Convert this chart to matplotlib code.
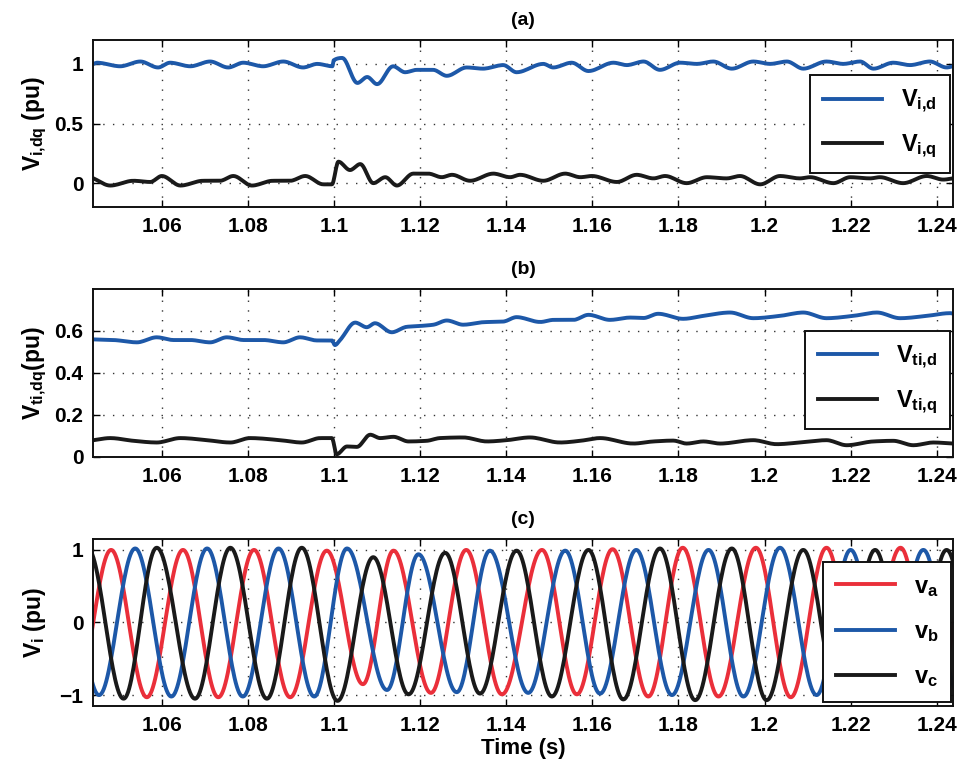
import numpy as np
import matplotlib
matplotlib.use("Agg")
import matplotlib.pyplot as plt
from matplotlib.ticker import FixedLocator, FuncFormatter

plt.rcParams['font.family'] = ['Liberation Sans', 'DejaVu Sans']
plt.rcParams['font.weight'] = 'bold'
plt.rcParams['axes.labelweight'] = 'bold'
plt.rcParams['axes.titleweight'] = 'bold'
plt.rcParams['mathtext.fontset'] = 'custom'
plt.rcParams['mathtext.rm'] = 'Liberation Sans:bold'
plt.rcParams['mathtext.it'] = 'Liberation Sans:bold'
plt.rcParams['mathtext.bf'] = 'Liberation Sans:bold'

# ---------------- (a) inverter voltage, dq frame ----------------
t_a_d = [1.0440, 1.0449, 1.0503, 1.0550, 1.0591, 1.0619, 1.0666, 1.0712, 1.0754, 1.0789,
         1.0835, 1.0882, 1.0928, 1.0961, 1.0996, 1.0999, 1.1019, 1.1054, 1.1077, 1.1100,
         1.1137, 1.1165, 1.1192, 1.1230, 1.1262, 1.1308, 1.1346, 1.1393, 1.1424, 1.1486,
         1.1509, 1.1552, 1.1591, 1.1649, 1.1680, 1.1719, 1.1757, 1.1804, 1.1843, 1.1881,
         1.1924, 1.1974, 1.2013, 1.2052, 1.2090, 1.2144, 1.2183, 1.2222, 1.2253, 1.2299,
         1.2338, 1.2384, 1.2423, 1.2438]
v_i_d = [1.00, 1.01, 0.98, 1.02, 0.97, 1.01, 0.98, 1.02, 0.97, 1.01,
         0.98, 1.02, 0.97, 1.00, 0.98, 1.03, 1.05, 0.84, 0.89, 0.83,
         0.98, 0.93, 0.95, 0.95, 0.90, 0.97, 0.96, 0.99, 0.93, 1.00,
         0.97, 1.01, 0.94, 1.01, 0.99, 1.02, 0.95, 1.01, 1.00, 1.02,
         0.96, 1.02, 1.00, 1.02, 0.96, 1.02, 1.00, 1.02, 0.96, 1.01,
         0.99, 1.02, 0.97, 0.98]

t_a_q = [1.0441, 1.0480, 1.0534, 1.0573, 1.0600, 1.0643, 1.0696, 1.0735, 1.0766, 1.0809,
         1.0858, 1.0898, 1.0933, 1.0975, 1.0995, 1.1010, 1.1037, 1.1061, 1.1091, 1.1119,
         1.1146, 1.1184, 1.1219, 1.1250, 1.1274, 1.1316, 1.1370, 1.1409, 1.1432, 1.1486,
         1.1537, 1.1572, 1.1599, 1.1657, 1.1703, 1.1742, 1.1769, 1.1819, 1.1866, 1.1912,
         1.1943, 1.1990, 1.2036, 1.2082, 1.2106, 1.2160, 1.2199, 1.2245, 1.2268, 1.2322,
         1.2377, 1.2415, 1.2438]
v_i_q = [0.04, -0.02, 0.02, 0.01, 0.06, -0.02, 0.02, 0.02, 0.06, -0.02,
         0.02, 0.02, 0.06, -0.01, -0.01, 0.18, 0.11, 0.16, 0.00, 0.05,
         -0.02, 0.08, 0.08, 0.05, 0.07, 0.02, 0.08, 0.05, 0.07, 0.02,
         0.08, 0.05, 0.06, 0.01, 0.07, 0.04, 0.06, 0.00, 0.05, 0.04,
         0.06, -0.01, 0.06, 0.04, 0.05, 0.00, 0.05, 0.04, 0.05, 0.00,
         0.06, 0.03, 0.04]

# ---------------- (b) terminal voltage, dq frame ----------------
t_b_d = [1.0441, 1.0488, 1.0542, 1.0588, 1.0627, 1.0666, 1.0712, 1.0751, 1.0790, 1.0836,
         1.0882, 1.0921, 1.0960, 1.0995, 1.1002, 1.1014, 1.1049, 1.1076, 1.1095, 1.1134,
         1.1169, 1.1200, 1.1231, 1.1262, 1.1300, 1.1347, 1.1393, 1.1424, 1.1479, 1.1510,
         1.1556, 1.1591, 1.1641, 1.1688, 1.1719, 1.1753, 1.1811, 1.1858, 1.1920, 1.1974,
         1.2036, 1.2090, 1.2144, 1.2206, 1.2261, 1.2315, 1.2377, 1.2431, 1.2438]
v_ti_d = [0.560, 0.557, 0.546, 0.570, 0.557, 0.557, 0.546, 0.570, 0.557, 0.557,
          0.546, 0.570, 0.555, 0.555, 0.533, 0.557, 0.640, 0.618, 0.637, 0.594,
          0.620, 0.624, 0.630, 0.650, 0.630, 0.642, 0.645, 0.666, 0.643, 0.653,
          0.653, 0.677, 0.653, 0.664, 0.662, 0.682, 0.658, 0.672, 0.688, 0.661,
          0.672, 0.688, 0.661, 0.672, 0.688, 0.661, 0.672, 0.685, 0.683]

t_b_q = [1.0441, 1.0480, 1.0534, 1.0588, 1.0643, 1.0705, 1.0759, 1.0805, 1.0875, 1.0925,
         1.0968, 1.0995, 1.1006, 1.1030, 1.1053, 1.1084, 1.1107, 1.1138, 1.1173, 1.1215,
         1.1246, 1.1300, 1.1355, 1.1401, 1.1455, 1.1525, 1.1572, 1.1618, 1.1695, 1.1742,
         1.1788, 1.1819, 1.1858, 1.1897, 1.1974, 1.2028, 1.2082, 1.2144, 1.2191, 1.2253,
         1.2299, 1.2346, 1.2392, 1.2438]
v_ti_q = [0.080, 0.090, 0.077, 0.069, 0.090, 0.080, 0.069, 0.090, 0.080, 0.069,
          0.090, 0.090, 0.013, 0.050, 0.048, 0.106, 0.090, 0.096, 0.074, 0.077,
          0.090, 0.093, 0.074, 0.080, 0.093, 0.069, 0.077, 0.090, 0.064, 0.074,
          0.078, 0.064, 0.074, 0.064, 0.080, 0.061, 0.069, 0.080, 0.056, 0.074,
          0.077, 0.056, 0.069, 0.064]

# ---------------- (c) three-phase voltages: peak/trough instants and values ----------------
t_va = [1.0399, 1.0482, 1.0565, 1.0649, 1.0731, 1.0814, 1.0898, 1.0983, 1.1067, 1.1138,
        1.1225, 1.1307, 1.1390, 1.1483, 1.1564, 1.1647, 1.1730, 1.1810, 1.1893, 1.1980,
        1.2061, 1.2144, 1.2226, 1.2316, 1.2398, 1.2482]
pk_va = [-1.00, 1.00, -1.03, 1.00, -1.03, 1.00, -1.03, 0.99, -0.85, 0.99,
         -0.97, 1.00, -0.99, 1.00, -0.99, 1.01, -1.02, 1.03, -1.02, 1.03,
         -1.03, 1.03, -1.02, 1.03, -1.02, 1.03]

t_vb = [1.0371, 1.0454, 1.0538, 1.0622, 1.0705, 1.0788, 1.0871, 1.0954, 1.1030, 1.1123,
        1.1196, 1.1285, 1.1362, 1.1451, 1.1537, 1.1618, 1.1702, 1.1785, 1.1870, 1.1951,
        1.2036, 1.2121, 1.2200, 1.2284, 1.2369, 1.2452]
pk_vb = [1.02, -1.00, 1.02, -1.02, 1.02, -1.02, 1.02, -1.02, 1.02, -0.93,
         0.94, -0.96, 0.99, -0.97, 0.99, -0.98, 1.00, -1.00, 1.00, -1.02,
         1.03, -1.00, 1.00, -1.00, 1.00, -1.00]

t_vc = [1.0427, 1.0511, 1.0588, 1.0677, 1.0759, 1.0844, 1.0925, 1.1008, 1.1091, 1.1173,
        1.1258, 1.1339, 1.1424, 1.1506, 1.1591, 1.1672, 1.1757, 1.1839, 1.1924, 1.2005,
        1.2090, 1.2173, 1.2257, 1.2340, 1.2423, 1.2505]
pk_vc = [1.03, -1.05, 1.03, -1.05, 1.03, -1.05, 1.03, -1.08, 0.90, -0.99,
         0.96, -0.98, 0.99, -1.02, 1.00, -1.06, 1.02, -1.07, 1.02, -1.07,
         1.00, -1.05, 1.00, -1.05, 1.00, -1.05]

x_ticks = [1.06, 1.08, 1.10, 1.12, 1.14, 1.16, 1.18, 1.20, 1.22, 1.24]
x_range = (1.0440, 1.2438)

BLUE = '#1d58a8'
BLACK = '#1a1a1a'
RED = '#ea2f3a'
LW = 2.8


def pchip_path(t, v, n=12):
    """Shape-preserving cubic path through the sampled points."""
    t = np.asarray(t, float)
    v = np.asarray(v, float)
    h = np.diff(t)
    d = np.diff(v) / h
    m = np.zeros_like(v)
    m[0], m[-1] = d[0], d[-1]
    for i in range(1, len(v) - 1):
        if d[i - 1] * d[i] > 0:
            w1 = 2 * h[i] + h[i - 1]
            w2 = h[i] + 2 * h[i - 1]
            m[i] = (w1 + w2) / (w1 / d[i - 1] + w2 / d[i])
    ts, vs = [], []
    s = np.linspace(0.0, 1.0, n, endpoint=False)
    h00 = 2 * s**3 - 3 * s**2 + 1
    h10 = s**3 - 2 * s**2 + s
    h01 = -2 * s**3 + 3 * s**2
    h11 = s**3 - s**2
    for i in range(len(v) - 1):
        ts.append(t[i] + s * h[i])
        vs.append(h00 * v[i] + h10 * h[i] * m[i] + h01 * v[i + 1] + h11 * h[i] * m[i + 1])
    ts.append([t[-1]])
    vs.append([v[-1]])
    return np.concatenate(ts), np.concatenate(vs)


def half_cosine_path(t_ext, v_ext, n=30):
    """Smooth path joining successive extrema with half-cosine arcs."""
    ts, vs = [], []
    for i in range(len(t_ext) - 1):
        s = np.linspace(0.0, 1.0, n, endpoint=False)
        ts.append(t_ext[i] + s * (t_ext[i + 1] - t_ext[i]))
        vs.append(0.5 * (v_ext[i] + v_ext[i + 1])
                  + 0.5 * (v_ext[i] - v_ext[i + 1]) * np.cos(np.pi * s))
    ts.append([t_ext[-1]])
    vs.append([v_ext[-1]])
    return np.concatenate(ts), np.concatenate(vs)


def style_axes(ax, yticks, ylim, title):
    ax.set_xlim(*x_range)
    ax.set_ylim(*ylim)
    ax.xaxis.set_major_locator(FixedLocator(x_ticks))
    ax.xaxis.set_major_formatter(FuncFormatter(lambda v, p: f"{v:g}"))
    ax.yaxis.set_major_locator(FixedLocator(yticks))
    ax.yaxis.set_major_formatter(FuncFormatter(lambda v, p: f"{v:g}".replace('-', '\u2212')))
    ax.tick_params(direction='in', top=True, right=True, length=5, width=1.0,
                   labelsize=15, pad=7)
    ax.grid(True, linestyle=(0, (1, 6)), color='#333333', linewidth=1.0)
    for sp in ax.spines.values():
        sp.set_linewidth(1.4)
        sp.set_color('#111111')
    ax.set_title(title, fontsize=14, fontweight='bold', pad=11)


def add_legend(ax, anchor, spacing=0.75):
    leg = ax.legend(loc='upper right', bbox_to_anchor=anchor, borderaxespad=0,
                    fontsize=17, handlelength=2.5, handletextpad=0.8,
                    labelspacing=spacing, borderpad=0.55, fancybox=False,
                    framealpha=1, edgecolor='#111111')
    leg.get_frame().set_linewidth(1.4)
    return leg


fig = plt.figure(figsize=(9.62, 7.67), dpi=100)
ax_a = fig.add_axes([0.0967, 0.7301, 0.894, 0.2177])
ax_b = fig.add_axes([0.0967, 0.4042, 0.894, 0.2190])
ax_c = fig.add_axes([0.0967, 0.0795, 0.894, 0.2178])

# (a)
ax_a.plot(*pchip_path(t_a_d, v_i_d), color=BLUE, lw=LW, label=r'$V_{i{,}d}$')
ax_a.plot(*pchip_path(t_a_q, v_i_q), color=BLACK, lw=LW, label=r'$V_{i{,}q}$')
style_axes(ax_a, [0, 0.5, 1], (-0.2, 1.2), '(a)')
ax_a.set_ylabel(r'$V_{i{,}dq}$ (pu)', fontsize=16.5, labelpad=4)
add_legend(ax_a, (0.9965, 0.79))

# (b)
ax_b.plot(*pchip_path(t_b_d, v_ti_d), color=BLUE, lw=LW, label=r'$V_{ti{,}d}$')
ax_b.plot(*pchip_path(t_b_q, v_ti_q), color=BLACK, lw=LW, label=r'$V_{ti{,}q}$')
style_axes(ax_b, [0, 0.2, 0.4, 0.6], (0, 0.8), '(b)')
ax_b.set_ylabel(r'$V_{ti{,}dq}$(pu)', fontsize=16.5, labelpad=4)
add_legend(ax_b, (0.9965, 0.752))

# (c)
for t_ext, v_ext, col, lab in [(t_va, pk_va, RED, r'$v_a$'),
                               (t_vb, pk_vb, BLUE, r'$v_b$'),
                               (t_vc, pk_vc, BLACK, r'$v_c$')]:
    ax_c.plot(*half_cosine_path(t_ext, v_ext), color=col, lw=LW, label=lab)
style_axes(ax_c, [-1, 0, 1], (-1.15, 1.15), '(c)')
ax_c.set_ylabel(r'$V_{i}$ (pu)', fontsize=16.5, labelpad=8)
ax_c.set_xlabel('Time (s)', fontsize=16, labelpad=2)
add_legend(ax_c, (0.998, 0.864), spacing=0.9)

fig.savefig('out.png', dpi=100)
